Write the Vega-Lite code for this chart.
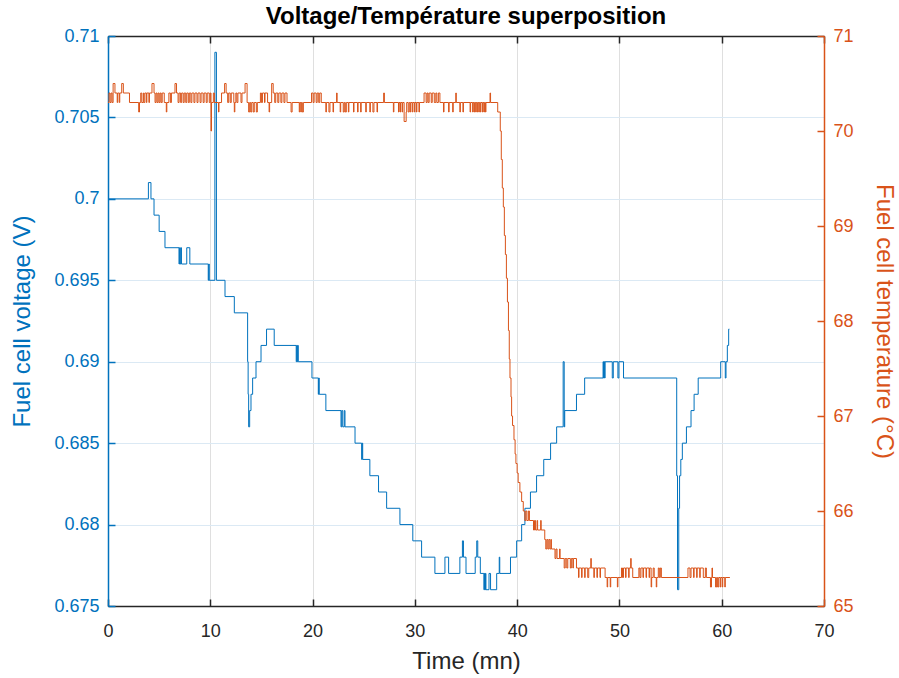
{
  "$schema": "https://vega.github.io/schema/vega-lite/v6.json",
  "width": 716,
  "height": 570,
  "autosize": "none",
  "padding": {"left": 108, "top": 36, "right": 75, "bottom": 72},
  "background": "white",
  "config": {
    "font": "Liberation Sans",
    "view": {"stroke": null},
    "axis": {"labelFontSize": 18, "titleFontSize": 24, "titleFontWeight": "normal", "domainWidth": 1.5, "tickWidth": 1.5, "tickSize": -7, "labelPadding": 16, "labelFlush": false, "labelOverlap": false}
  },
  "title": {"text": "Voltage/Température superposition", "fontSize": 24, "fontWeight": "bold", "color": "#000000", "anchor": "middle", "offset": -2},
  "datasets": {
    "volt": [
      {"t": 0, "v": 0.700}, {"t": 3.95, "v": 0.701}, {"t": 4.2, "v": 0.700}, {"t": 4.5, "v": 0.699}, {"t": 5.0, "v": 0.698}, {"t": 5.57, "v": 0.697},
      {"t": 6.94, "v": 0.696}, {"t": 7.0, "v": 0.697}, {"t": 7.05, "v": 0.696}, {"t": 7.12, "v": 0.697}, {"t": 7.18, "v": 0.696}, {"t": 7.7, "v": 0.697}, {"t": 8.0, "v": 0.696},
      {"t": 9.8, "v": 0.695}, {"t": 9.85, "v": 0.696}, {"t": 9.9, "v": 0.695}, {"t": 10.45, "v": 0.709}, {"t": 10.6, "v": 0.695}, {"t": 11.44, "v": 0.694}, {"t": 12.35, "v": 0.693},
      {"t": 13.65, "v": 0.690}, {"t": 13.7, "v": 0.688}, {"t": 13.75, "v": 0.686}, {"t": 13.85, "v": 0.687}, {"t": 13.98, "v": 0.688}, {"t": 14.14, "v": 0.689}, {"t": 14.47, "v": 0.690},
      {"t": 14.96, "v": 0.691}, {"t": 15.5, "v": 0.692}, {"t": 16.25, "v": 0.691}, {"t": 18.4, "v": 0.690}, {"t": 18.45, "v": 0.691}, {"t": 18.5, "v": 0.690}, {"t": 18.55, "v": 0.691}, {"t": 18.6, "v": 0.690},
      {"t": 19.94, "v": 0.689}, {"t": 20.56, "v": 0.688}, {"t": 20.6, "v": 0.689}, {"t": 20.65, "v": 0.688}, {"t": 21.3, "v": 0.687}, {"t": 22.78, "v": 0.686}, {"t": 22.85, "v": 0.687},
      {"t": 22.95, "v": 0.686}, {"t": 23.1, "v": 0.687}, {"t": 23.17, "v": 0.686}, {"t": 24.15, "v": 0.685}, {"t": 24.8, "v": 0.684}, {"t": 24.85, "v": 0.685}, {"t": 24.9, "v": 0.684},
      {"t": 25.6, "v": 0.683}, {"t": 26.45, "v": 0.682}, {"t": 27.24, "v": 0.681}, {"t": 28.54, "v": 0.680}, {"t": 29.8, "v": 0.679}, {"t": 30.66, "v": 0.678}, {"t": 31.96, "v": 0.677},
      {"t": 32.94, "v": 0.678}, {"t": 33.3, "v": 0.677}, {"t": 34.4, "v": 0.678}, {"t": 34.65, "v": 0.679}, {"t": 34.75, "v": 0.678}, {"t": 35.0, "v": 0.677}, {"t": 35.9, "v": 0.678},
      {"t": 36.05, "v": 0.679}, {"t": 36.15, "v": 0.678}, {"t": 36.4, "v": 0.677}, {"t": 36.75, "v": 0.676}, {"t": 36.8, "v": 0.677}, {"t": 36.85, "v": 0.676}, {"t": 36.9, "v": 0.677},
      {"t": 36.95, "v": 0.676}, {"t": 37.25, "v": 0.677}, {"t": 37.4, "v": 0.676}, {"t": 38.0, "v": 0.677}, {"t": 38.25, "v": 0.678}, {"t": 38.3, "v": 0.677}, {"t": 39.35, "v": 0.678},
      {"t": 39.95, "v": 0.679}, {"t": 40.44, "v": 0.680}, {"t": 40.76, "v": 0.681}, {"t": 41.3, "v": 0.682}, {"t": 41.9, "v": 0.683}, {"t": 42.6, "v": 0.684}, {"t": 43.27, "v": 0.685},
      {"t": 43.86, "v": 0.686}, {"t": 44.5, "v": 0.690}, {"t": 44.6, "v": 0.686}, {"t": 44.65, "v": 0.687}, {"t": 45.8, "v": 0.688}, {"t": 46.6, "v": 0.689}, {"t": 48.4, "v": 0.690},
      {"t": 48.45, "v": 0.689}, {"t": 48.5, "v": 0.690}, {"t": 48.55, "v": 0.689}, {"t": 48.6, "v": 0.690}, {"t": 49.3, "v": 0.689}, {"t": 49.4, "v": 0.690}, {"t": 49.85, "v": 0.689},
      {"t": 49.95, "v": 0.690}, {"t": 50.4, "v": 0.689}, {"t": 55.6, "v": 0.683}, {"t": 55.68, "v": 0.676}, {"t": 55.8, "v": 0.681}, {"t": 55.88, "v": 0.683}, {"t": 56.0, "v": 0.684},
      {"t": 56.15, "v": 0.685}, {"t": 56.55, "v": 0.686}, {"t": 57.0, "v": 0.687}, {"t": 57.3, "v": 0.688}, {"t": 57.7, "v": 0.689}, {"t": 59.9, "v": 0.690}, {"t": 60.35, "v": 0.689},
      {"t": 60.42, "v": 0.690}, {"t": 60.55, "v": 0.691}, {"t": 60.68, "v": 0.692}, {"t": 60.75, "v": 0.692}
    ],
    "temp": [
      {"t": 0, "T": 70.3}, {"t": 0.1, "T": 70.4}, {"t": 0.2, "T": 70.3}, {"t": 0.3, "T": 70.4}, {"t": 0.4, "T": 70.3}, {"t": 0.5, "T": 70.5}, {"t": 0.68, "T": 70.4}, {"t": 0.9, "T": 70.3},
      {"t": 0.95, "T": 70.4}, {"t": 1.1, "T": 70.3}, {"t": 1.15, "T": 70.4}, {"t": 1.34, "T": 70.5}, {"t": 1.5, "T": 70.4}, {"t": 2.1, "T": 70.3}, {"t": 3.0, "T": 70.2}, {"t": 3.08, "T": 70.3},
      {"t": 3.2, "T": 70.4}, {"t": 3.3, "T": 70.3}, {"t": 3.45, "T": 70.4}, {"t": 3.5, "T": 70.3}, {"t": 3.6, "T": 70.4}, {"t": 3.75, "T": 70.3}, {"t": 3.8, "T": 70.4}, {"t": 4.0, "T": 70.3},
      {"t": 4.05, "T": 70.4}, {"t": 4.3, "T": 70.5}, {"t": 4.5, "T": 70.4}, {"t": 4.6, "T": 70.3}, {"t": 4.7, "T": 70.4}, {"t": 4.8, "T": 70.3}, {"t": 4.9, "T": 70.4}, {"t": 5.0, "T": 70.3},
      {"t": 5.1, "T": 70.4}, {"t": 5.2, "T": 70.3}, {"t": 5.3, "T": 70.4}, {"t": 5.5, "T": 70.3}, {"t": 5.7, "T": 70.2}, {"t": 5.75, "T": 70.3}, {"t": 5.95, "T": 70.4}, {"t": 6.1, "T": 70.3},
      {"t": 6.2, "T": 70.4}, {"t": 6.55, "T": 70.5}, {"t": 6.7, "T": 70.4}, {"t": 6.85, "T": 70.3}, {"t": 6.95, "T": 70.4}, {"t": 7.1, "T": 70.3}, {"t": 7.2, "T": 70.4}, {"t": 7.35, "T": 70.3},
      {"t": 7.45, "T": 70.4}, {"t": 7.6, "T": 70.3}, {"t": 7.7, "T": 70.4}, {"t": 7.85, "T": 70.3}, {"t": 7.95, "T": 70.4}, {"t": 8.1, "T": 70.3}, {"t": 8.2, "T": 70.4}, {"t": 8.4, "T": 70.3},
      {"t": 8.5, "T": 70.4}, {"t": 8.7, "T": 70.3}, {"t": 8.8, "T": 70.4}, {"t": 9.0, "T": 70.3}, {"t": 9.1, "T": 70.4}, {"t": 9.3, "T": 70.3}, {"t": 9.4, "T": 70.4}, {"t": 9.6, "T": 70.3},
      {"t": 9.7, "T": 70.4}, {"t": 9.9, "T": 70.3}, {"t": 10.0, "T": 70.4}, {"t": 10.07, "T": 70.0}, {"t": 10.12, "T": 70.3}, {"t": 10.3, "T": 70.4}, {"t": 10.4, "T": 70.3}, {"t": 10.8, "T": 70.2},
      {"t": 10.85, "T": 70.3}, {"t": 11.1, "T": 70.4}, {"t": 11.4, "T": 70.5}, {"t": 11.55, "T": 70.4}, {"t": 11.7, "T": 70.3}, {"t": 11.8, "T": 70.4}, {"t": 11.95, "T": 70.3}, {"t": 12.05, "T": 70.4},
      {"t": 12.3, "T": 70.3}, {"t": 12.35, "T": 70.2}, {"t": 12.4, "T": 70.3}, {"t": 12.5, "T": 70.4}, {"t": 12.6, "T": 70.3}, {"t": 12.7, "T": 70.4}, {"t": 13.0, "T": 70.3}, {"t": 13.1, "T": 70.4},
      {"t": 13.4, "T": 70.5}, {"t": 13.6, "T": 70.3}, {"t": 13.75, "T": 70.2}, {"t": 13.85, "T": 70.3}, {"t": 13.95, "T": 70.2}, {"t": 14.05, "T": 70.3}, {"t": 14.2, "T": 70.2}, {"t": 14.3, "T": 70.3},
      {"t": 14.5, "T": 70.2}, {"t": 14.6, "T": 70.3}, {"t": 14.9, "T": 70.4}, {"t": 15.0, "T": 70.3}, {"t": 15.1, "T": 70.4}, {"t": 15.3, "T": 70.3}, {"t": 15.35, "T": 70.4}, {"t": 15.6, "T": 70.3},
      {"t": 15.75, "T": 70.2}, {"t": 15.8, "T": 70.3}, {"t": 16.0, "T": 70.5}, {"t": 16.15, "T": 70.4}, {"t": 16.3, "T": 70.3}, {"t": 16.4, "T": 70.4}, {"t": 16.6, "T": 70.3}, {"t": 16.7, "T": 70.4},
      {"t": 16.9, "T": 70.3}, {"t": 17.0, "T": 70.4}, {"t": 17.2, "T": 70.3}, {"t": 17.3, "T": 70.4}, {"t": 17.5, "T": 70.3}, {"t": 17.9, "T": 70.2}, {"t": 18.0, "T": 70.3}, {"t": 18.7, "T": 70.2},
      {"t": 18.75, "T": 70.3}, {"t": 18.85, "T": 70.2}, {"t": 18.9, "T": 70.3}, {"t": 19.0, "T": 70.2}, {"t": 19.1, "T": 70.3}, {"t": 19.9, "T": 70.4}, {"t": 20.05, "T": 70.3}, {"t": 20.15, "T": 70.4},
      {"t": 20.35, "T": 70.3}, {"t": 20.45, "T": 70.4}, {"t": 20.6, "T": 70.3}, {"t": 20.7, "T": 70.4}, {"t": 20.85, "T": 70.3}, {"t": 21.3, "T": 70.2}, {"t": 21.35, "T": 70.3}, {"t": 21.6, "T": 70.2},
      {"t": 21.7, "T": 70.3}, {"t": 22.0, "T": 70.2}, {"t": 22.05, "T": 70.3}, {"t": 22.35, "T": 70.4}, {"t": 22.4, "T": 70.3}, {"t": 22.7, "T": 70.2}, {"t": 22.75, "T": 70.3}, {"t": 23.0, "T": 70.2},
      {"t": 23.1, "T": 70.3}, {"t": 23.2, "T": 70.2}, {"t": 23.3, "T": 70.3}, {"t": 23.5, "T": 70.2}, {"t": 23.55, "T": 70.3}, {"t": 24.0, "T": 70.2}, {"t": 24.05, "T": 70.3}, {"t": 24.4, "T": 70.2},
      {"t": 24.45, "T": 70.3}, {"t": 24.7, "T": 70.2}, {"t": 24.75, "T": 70.3}, {"t": 25.2, "T": 70.2}, {"t": 25.25, "T": 70.3}, {"t": 25.6, "T": 70.2}, {"t": 25.65, "T": 70.3}, {"t": 25.9, "T": 70.2},
      {"t": 26.0, "T": 70.3}, {"t": 26.3, "T": 70.2}, {"t": 26.35, "T": 70.3}, {"t": 26.95, "T": 70.4}, {"t": 27.02, "T": 70.3}, {"t": 27.9, "T": 70.2}, {"t": 27.95, "T": 70.3}, {"t": 28.4, "T": 70.2},
      {"t": 28.45, "T": 70.3}, {"t": 28.55, "T": 70.2}, {"t": 28.6, "T": 70.3}, {"t": 28.75, "T": 70.2}, {"t": 28.8, "T": 70.3}, {"t": 28.95, "T": 70.1}, {"t": 29.15, "T": 70.2}, {"t": 29.2, "T": 70.3},
      {"t": 29.35, "T": 70.2}, {"t": 29.45, "T": 70.3}, {"t": 29.55, "T": 70.2}, {"t": 29.6, "T": 70.3}, {"t": 29.75, "T": 70.2}, {"t": 29.8, "T": 70.3}, {"t": 29.95, "T": 70.2}, {"t": 30.0, "T": 70.3},
      {"t": 30.15, "T": 70.2}, {"t": 30.2, "T": 70.3}, {"t": 30.4, "T": 70.2}, {"t": 30.45, "T": 70.3}, {"t": 30.9, "T": 70.4}, {"t": 31.1, "T": 70.3}, {"t": 31.2, "T": 70.4}, {"t": 31.3, "T": 70.3},
      {"t": 31.4, "T": 70.4}, {"t": 31.6, "T": 70.3}, {"t": 31.7, "T": 70.4}, {"t": 31.9, "T": 70.3}, {"t": 32.05, "T": 70.4}, {"t": 32.15, "T": 70.3}, {"t": 32.3, "T": 70.4}, {"t": 32.45, "T": 70.3},
      {"t": 32.8, "T": 70.2}, {"t": 32.85, "T": 70.3}, {"t": 33.3, "T": 70.2}, {"t": 33.35, "T": 70.3}, {"t": 33.7, "T": 70.2}, {"t": 33.75, "T": 70.3}, {"t": 34.0, "T": 70.4}, {"t": 34.05, "T": 70.3},
      {"t": 34.4, "T": 70.2}, {"t": 34.45, "T": 70.3}, {"t": 34.7, "T": 70.2}, {"t": 34.75, "T": 70.3}, {"t": 35.4, "T": 70.2}, {"t": 35.45, "T": 70.3}, {"t": 35.65, "T": 70.2}, {"t": 35.7, "T": 70.3},
      {"t": 35.8, "T": 70.2}, {"t": 35.85, "T": 70.3}, {"t": 35.95, "T": 70.2}, {"t": 36.0, "T": 70.3}, {"t": 36.1, "T": 70.2}, {"t": 36.15, "T": 70.3}, {"t": 36.25, "T": 70.2}, {"t": 36.3, "T": 70.3},
      {"t": 36.4, "T": 70.2}, {"t": 36.45, "T": 70.3}, {"t": 36.6, "T": 70.2}, {"t": 36.65, "T": 70.3}, {"t": 36.75, "T": 70.2}, {"t": 36.8, "T": 70.3}, {"t": 36.9, "T": 70.2}, {"t": 36.95, "T": 70.3},
      {"t": 37.35, "T": 70.4}, {"t": 37.4, "T": 70.3}, {"t": 38.1, "T": 70.2}, {"t": 38.35, "T": 70.0}, {"t": 38.45, "T": 69.7}, {"t": 38.55, "T": 69.4}, {"t": 38.65, "T": 69.2}, {"t": 38.75, "T": 68.9},
      {"t": 38.85, "T": 68.7}, {"t": 38.95, "T": 68.45}, {"t": 39.05, "T": 68.2}, {"t": 39.15, "T": 67.9}, {"t": 39.23, "T": 67.6}, {"t": 39.3, "T": 67.4}, {"t": 39.4, "T": 67.2}, {"t": 39.46, "T": 67.0},
      {"t": 39.55, "T": 66.9}, {"t": 39.69, "T": 66.75}, {"t": 39.8, "T": 66.6}, {"t": 39.88, "T": 66.5}, {"t": 40.0, "T": 66.4}, {"t": 40.1, "T": 66.3}, {"t": 40.27, "T": 66.2}, {"t": 40.44, "T": 66.1},
      {"t": 40.6, "T": 66.0}, {"t": 40.75, "T": 65.9}, {"t": 40.85, "T": 66.0}, {"t": 40.95, "T": 65.9}, {"t": 41.1, "T": 66.0}, {"t": 41.2, "T": 65.9}, {"t": 41.6, "T": 65.8}, {"t": 41.7, "T": 65.9},
      {"t": 41.8, "T": 65.8}, {"t": 41.95, "T": 65.9}, {"t": 42.0, "T": 65.8}, {"t": 42.3, "T": 65.9}, {"t": 42.35, "T": 65.8}, {"t": 42.7, "T": 65.7}, {"t": 42.8, "T": 65.6}, {"t": 42.9, "T": 65.7},
      {"t": 43.0, "T": 65.6}, {"t": 43.1, "T": 65.7}, {"t": 43.2, "T": 65.6}, {"t": 43.3, "T": 65.7}, {"t": 43.35, "T": 65.6}, {"t": 43.7, "T": 65.5}, {"t": 43.8, "T": 65.6}, {"t": 43.9, "T": 65.5},
      {"t": 44.15, "T": 65.6}, {"t": 44.2, "T": 65.5}, {"t": 44.6, "T": 65.4}, {"t": 44.7, "T": 65.5}, {"t": 44.85, "T": 65.4}, {"t": 44.95, "T": 65.5}, {"t": 45.2, "T": 65.4}, {"t": 45.3, "T": 65.5},
      {"t": 45.45, "T": 65.4}, {"t": 45.5, "T": 65.5}, {"t": 45.8, "T": 65.4}, {"t": 46.0, "T": 65.3}, {"t": 46.05, "T": 65.4}, {"t": 46.3, "T": 65.3}, {"t": 46.35, "T": 65.4}, {"t": 46.6, "T": 65.3},
      {"t": 46.65, "T": 65.4}, {"t": 46.9, "T": 65.3}, {"t": 47.0, "T": 65.4}, {"t": 47.2, "T": 65.5}, {"t": 47.25, "T": 65.4}, {"t": 47.5, "T": 65.3}, {"t": 47.55, "T": 65.4}, {"t": 47.8, "T": 65.3},
      {"t": 47.85, "T": 65.4}, {"t": 48.1, "T": 65.3}, {"t": 48.15, "T": 65.4}, {"t": 48.6, "T": 65.3}, {"t": 48.8, "T": 65.2}, {"t": 48.85, "T": 65.3}, {"t": 49.1, "T": 65.2}, {"t": 49.15, "T": 65.3},
      {"t": 49.8, "T": 65.2}, {"t": 49.85, "T": 65.3}, {"t": 50.2, "T": 65.4}, {"t": 50.3, "T": 65.3}, {"t": 50.4, "T": 65.4}, {"t": 50.6, "T": 65.3}, {"t": 50.65, "T": 65.4}, {"t": 50.9, "T": 65.3},
      {"t": 50.95, "T": 65.4}, {"t": 51.1, "T": 65.5}, {"t": 51.15, "T": 65.4}, {"t": 51.3, "T": 65.3}, {"t": 51.9, "T": 65.4}, {"t": 52.0, "T": 65.3}, {"t": 52.1, "T": 65.4}, {"t": 52.3, "T": 65.3},
      {"t": 52.35, "T": 65.4}, {"t": 52.6, "T": 65.3}, {"t": 52.65, "T": 65.4}, {"t": 52.9, "T": 65.3}, {"t": 52.95, "T": 65.4}, {"t": 53.1, "T": 65.2}, {"t": 53.15, "T": 65.3}, {"t": 53.3, "T": 65.4},
      {"t": 53.4, "T": 65.3}, {"t": 53.6, "T": 65.2}, {"t": 53.65, "T": 65.3}, {"t": 53.8, "T": 65.4}, {"t": 53.9, "T": 65.3}, {"t": 54.0, "T": 65.4}, {"t": 54.1, "T": 65.3}, {"t": 56.7, "T": 65.4},
      {"t": 56.9, "T": 65.3}, {"t": 57.0, "T": 65.4}, {"t": 57.25, "T": 65.3}, {"t": 57.3, "T": 65.4}, {"t": 57.55, "T": 65.3}, {"t": 57.6, "T": 65.4}, {"t": 57.85, "T": 65.3}, {"t": 57.9, "T": 65.4},
      {"t": 58.2, "T": 65.3}, {"t": 58.4, "T": 65.4}, {"t": 58.5, "T": 65.3}, {"t": 58.9, "T": 65.2}, {"t": 59.0, "T": 65.3}, {"t": 59.05, "T": 65.4}, {"t": 59.1, "T": 65.3}, {"t": 59.4, "T": 65.2},
      {"t": 59.5, "T": 65.3}, {"t": 59.6, "T": 65.2}, {"t": 59.7, "T": 65.3}, {"t": 59.85, "T": 65.2}, {"t": 59.9, "T": 65.3}, {"t": 60.05, "T": 65.2}, {"t": 60.1, "T": 65.3}, {"t": 60.3, "T": 65.2},
      {"t": 60.35, "T": 65.3}, {"t": 60.8, "T": 65.3}
    ]
  },
  "layer": [
    {
      "data": {"name": "volt"},
      "mark": {"type": "line", "interpolate": "step-after", "color": "#0072BD", "strokeWidth": 1, "clip": true},
      "encoding": {
        "x": {"field": "t", "type": "quantitative",
          "scale": {"domain": [0, 70], "nice": false},
          "axis": {"orient": "bottom", "values": [0, 10, 20, 30, 40, 50, 60, 70], "title": "Time (mn)", "grid": true, "gridColor": "#dfdfdf", "gridWidth": 1,
            "domainColor": "#262626", "tickColor": "#262626", "labelColor": "#262626", "titleColor": "#262626", "labelPadding": 23, "titlePadding": 9}},
        "y": {"field": "v", "type": "quantitative",
          "scale": {"domain": [0.675, 0.71], "nice": false, "zero": false},
          "axis": {"orient": "left", "values": [0.675, 0.68, 0.685, 0.69, 0.695, 0.7, 0.705, 0.71], "format": "~g", "title": "Fuel cell voltage (V)", "grid": true, "gridColor": "#dbe9f4", "gridWidth": 1,
            "domainColor": "#0072BD", "tickColor": "#0072BD", "labelColor": "#0072BD", "titleColor": "#0072BD", "labelPadding": 16, "titlePadding": 19}}
      }
    },
    {
      "data": {"name": "temp"},
      "mark": {"type": "line", "interpolate": "step-after", "color": "#D95319", "strokeWidth": 1, "clip": true},
      "encoding": {
        "x": {"field": "t", "type": "quantitative",
          "scale": {"domain": [0, 70], "nice": false},
          "axis": {"orient": "top", "values": [0, 10, 20, 30, 40, 50, 60, 70], "labels": false, "title": null, "grid": false, "domainColor": "#262626", "tickColor": "#262626"}},
        "y": {"field": "T", "type": "quantitative",
          "scale": {"domain": [65, 71], "nice": false, "zero": false},
          "axis": {"orient": "right", "values": [65, 66, 67, 68, 69, 70, 71], "format": "d", "title": "Fuel cell temperature (°C)", "grid": false,
            "domainColor": "#D95319", "tickColor": "#D95319", "labelColor": "#D95319", "titleColor": "#D95319", "labelPadding": 16, "titlePadding": 18}}
      }
    }
  ],
  "resolve": {"scale": {"y": "independent"}, "axis": {"x": "independent"}}
}
